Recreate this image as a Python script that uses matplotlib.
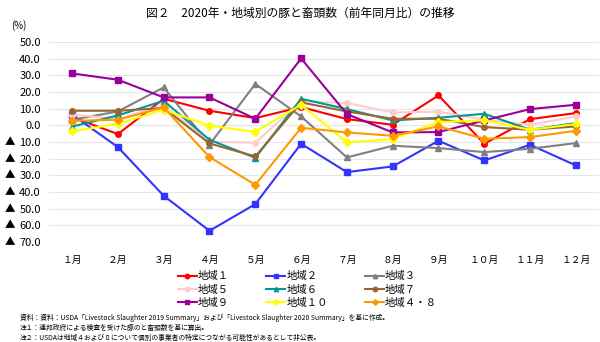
import matplotlib.pyplot as plt
import matplotlib.transforms as mtransforms

plt.rcParams['font.family'] = ['Noto Sans CJK JP', 'DejaVu Sans']

# データ
months = ['１月', '２月', '３月', '４月', '５月', '６月', '７月', '８月', '９月', '１０月', '１１月', '１２月']
r1 = [5.0, -5.2, 16.0, 8.8, 4.4, 11.0, 3.8, 0.4, 18.0, -11.0, 3.8, 7.4]
r2 = [6.5, -13.0, -42.2, -63.2, -47.2, -11.0, -28.0, -24.6, -9.2, -21.0, -11.6, -24.0]
r3 = [3.4, 8.4, 22.8, -11.5, 24.9, 5.4, -19.2, -12.2, -13.6, -16.0, -14.0, -10.6]
r5 = [6.5, 4.0, 12.0, -9.8, -10.4, 14.5, 13.4, 7.8, 8.2, 3.5, 0.4, 5.4]
r6 = [-0.7, 6.0, 14.8, -8.6, -19.4, 16.0, 9.8, 3.0, 4.6, 7.0, -2.6, 1.4]
r7 = [8.8, 8.8, 10.4, -10.8, -18.6, 13.8, 8.4, 4.0, 4.0, -1.0, -2.6, -0.6]
r9 = [31.2, 27.4, 16.8, 16.8, 4.0, 40.2, 6.8, -4.2, -4.0, 3.0, 9.8, 12.4]
r10 = [-3.6, 1.0, 9.4, -0.2, -3.8, 12.4, -10.2, -8.2, 2.0, 3.0, -2.6, 0.8]
r48 = [2.8, 3.4, 10.8, -19.0, -35.6, -1.4, -4.2, -6.2, -0.6, -8.0, -7.0, -3.2]

yticks = [50, 40, 30, 20, 10, 0, -10, -20, -30, -40, -50, -60, -70]
ytick_labels = ['50.0', '40.0', '30.0', '20.0', '10.0', '0.0',
                '10.0', '20.0', '30.0', '40.0', '50.0', '60.0', '70.0']

series = [
    ('地域１', r1, '#FF0000', 'o'),
    ('地域２', r2, '#3333FF', 's'),
    ('地域３', r3, '#808080', '^'),
    ('地域５', r5, '#FFCCCC', 'o'),
    ('地域６', r6, '#009999', '^'),
    ('地域７', r7, '#996633', 'o'),
    ('地域９', r9, '#990099', 's'),
    ('地域１０', r10, '#FFFF00', 'D'),
    ('地域４・８', r48, '#FF9900', 'D'),
]

fig, ax = plt.subplots(figsize=(6, 3.42), dpi=100)
fig.subplots_adjust(left=0.082, right=0.998, top=0.877, bottom=0.292)

x = list(range(len(months)))
handles = {}
for name, vals, col, mk in series:
    ms = 4 if mk != 'D' else 3.6
    h, = ax.plot(x, vals, color=col, marker=mk, markersize=ms, linewidth=1.5, label=name)
    handles[name] = h

ax.set_xlim(-0.5, 11.5)
ax.set_ylim(-70, 50)
ax.set_xticks(x)
ax.set_xticklabels(months, fontsize=7)
ax.set_yticks(yticks)
ax.set_yticklabels(ytick_labels, fontsize=8)
ax.tick_params(axis='y', length=0, pad=6)
ax.tick_params(axis='x', length=0, pad=9)
ax.grid(axis='y', color='#E6E6E6', linewidth=0.8)
for s in ax.spines.values():
    s.set_visible(False)

# マイナス記号（▲）は左端に
trans = mtransforms.blended_transform_factory(fig.transFigure, ax.transData)
for v in yticks:
    if v < 0:
        fig.text(0.008, v, '▲', transform=trans, ha='left', va='center', fontsize=7.5)

# 凡例（行ごとの順番に並べ替え）
order = ['地域１', '地域５', '地域９', '地域２', '地域６', '地域１０', '地域３', '地域７', '地域４・８']
ax.legend([handles[n] for n in order], order, ncol=3, frameon=False, fontsize=7.5,
          loc='upper center', bbox_to_anchor=(0.47, -0.125), handlelength=1.8,
          handletextpad=0.1, columnspacing=3.6, labelspacing=0.3, borderaxespad=0,
          markerscale=0.8)

fig.text(0.5, 0.962, '図２　2020年・地域別の豚と畜頭数（前年同月比）の推移', ha='center', va='center', fontsize=8.5)
fig.text(0.018, 0.925, '(%)', ha='left', va='center', fontsize=7)

notes = [
    '資料：資料：USDA「Livestock Slaughter 2019 Summary」および「Livestock Slaughter 2020 Summary」を基に作成。',
    '注１：連邦政府による検査を受けた豚のと畜頭数を基に算出。',
    '注２：USDAは地域４および８について個別の事業者の特定につながる可能性があるとして非公表。',
]
for i, t in enumerate(notes):
    fig.text(0.033, 1 - (318 + i * 10) / 342, t, ha='left', va='center', fontsize=4.9)

fig.savefig('out.png', dpi=100)
